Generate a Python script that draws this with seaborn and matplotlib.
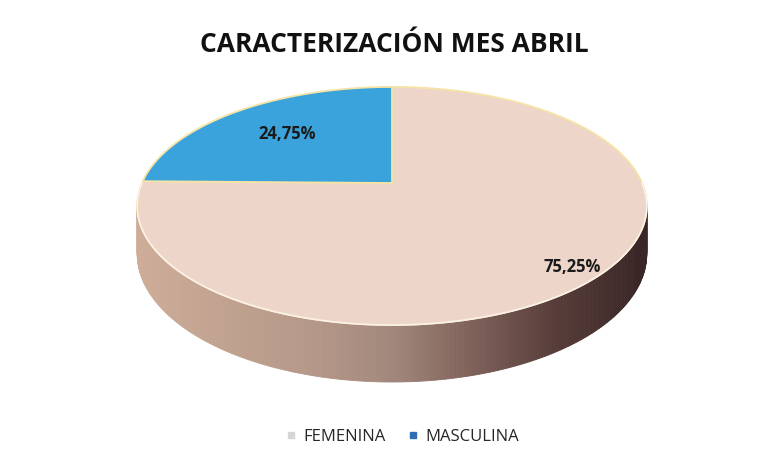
import numpy as np
import matplotlib.pyplot as plt
import seaborn as sns
from matplotlib.patches import Polygon
from matplotlib.lines import Line2D

# Datos
categorias = ['FEMENINA', 'MASCULINA']
porcentajes = [75.25, 24.75]
etiquetas = ['75,25%', '24,75%']
titulo = 'CARACTERIZACIÓN MES ABRIL'

# Colores
colores_cara = ['#EDD5CA', '#3BA3DB']
colores_leyenda = ['#D6D6D6', '#2E6FB0']

sns.set_theme(style='white')
plt.rcParams['font.family'] = ['Open Sans', 'DejaVu Sans']

fig = plt.figure(figsize=(7.7, 4.67), dpi=100)
ax = fig.add_axes([0, 0, 1, 1])
ax.set_xlim(0, 770)
ax.set_ylim(467, 0)
ax.axis('off')

# Geometria del pastel 3D (perspectiva simple)
cx, cy = 392, 183
A, B, p = 250, 114.6, 0.193
H = 46


def proyectar(t, r=1.0):
    u, v = r * np.cos(t), r * np.sin(t)
    den = 1 + p * v
    return cx + A * u / den, cy - B * v / den


def altura(t):
    return H / (1 + p * np.sin(t))


# Lado (cilindro) con degradado de claro a oscuro segun la posicion horizontal
pos_tono = [0.0, 0.35, 0.5, 0.68, 0.82, 1.0]
tonos = np.array([[205, 172, 152], [180, 151, 136], [162, 136, 124],
                  [122, 93, 86], [88, 62, 58], [58, 38, 38]]) / 255
ts = np.linspace(np.pi, 2 * np.pi, 241)
for i in range(len(ts) - 1):
    t0, t1 = ts[i], ts[i + 1]
    x0, y0 = proyectar(t0)
    x1, y1 = proyectar(t1)
    f = (0.5 * (x0 + x1) - (cx - A)) / (2 * A)
    c = [np.interp(f, pos_tono, tonos[:, k]) for k in range(3)]
    quad = [(x0, y0), (x1, y1), (x1, y1 + altura(t1)), (x0, y0 + altura(t0))]
    ax.add_patch(Polygon(quad, closed=True, facecolor=c, edgecolor=c, lw=0.6))

# Cara superior: sectores en sentido horario desde las 12
inicio = np.pi / 2
angulos = []
for val in porcentajes:
    barrido = val / 100 * 2 * np.pi
    a0, a1 = inicio - barrido, inicio
    angulos.append((a0, a1))
    inicio = a0

for (a0, a1), col in zip(angulos, colores_cara):
    t = np.linspace(a0, a1, 200)
    xs, ys = proyectar(t)
    pts = [(cx, cy)] + list(zip(xs, ys))
    ax.add_patch(Polygon(pts, closed=True, facecolor=col, edgecolor='#F6E3A6', lw=1.3))

# borde claro entre la cara y el lado
tb = np.linspace(np.pi, 2 * np.pi, 200)
xb, yb = proyectar(tb)
ax.plot(xb, yb, color='#FBF1EC', lw=1.2)

# Etiquetas de datos
radios_etiqueta = [0.9, 0.65]
for (a0, a1), txt, r in zip(angulos, etiquetas, radios_etiqueta):
    xm, ym = proyectar(0.5 * (a0 + a1), r)
    ax.text(xm, ym, txt, ha='center', va='center', fontsize=12,
            fontweight='bold', color='#1A1A1A')

ax.text(394, 45, titulo, ha='center', va='center', fontsize=19,
        fontweight='bold', color='#111111')

handles = [Line2D([0], [0], marker='s', linestyle='', markersize=4,
                  markerfacecolor=c, markeredgecolor=c) for c in colores_leyenda]
ax.legend(handles, categorias, loc='center', bbox_to_anchor=(0.522, 0.064),
          ncol=2, frameon=False, fontsize=12, handlelength=0.7,
          handletextpad=0.4, columnspacing=1.3, labelcolor='#262626')

fig.savefig('out.png', dpi=100, facecolor='white')
